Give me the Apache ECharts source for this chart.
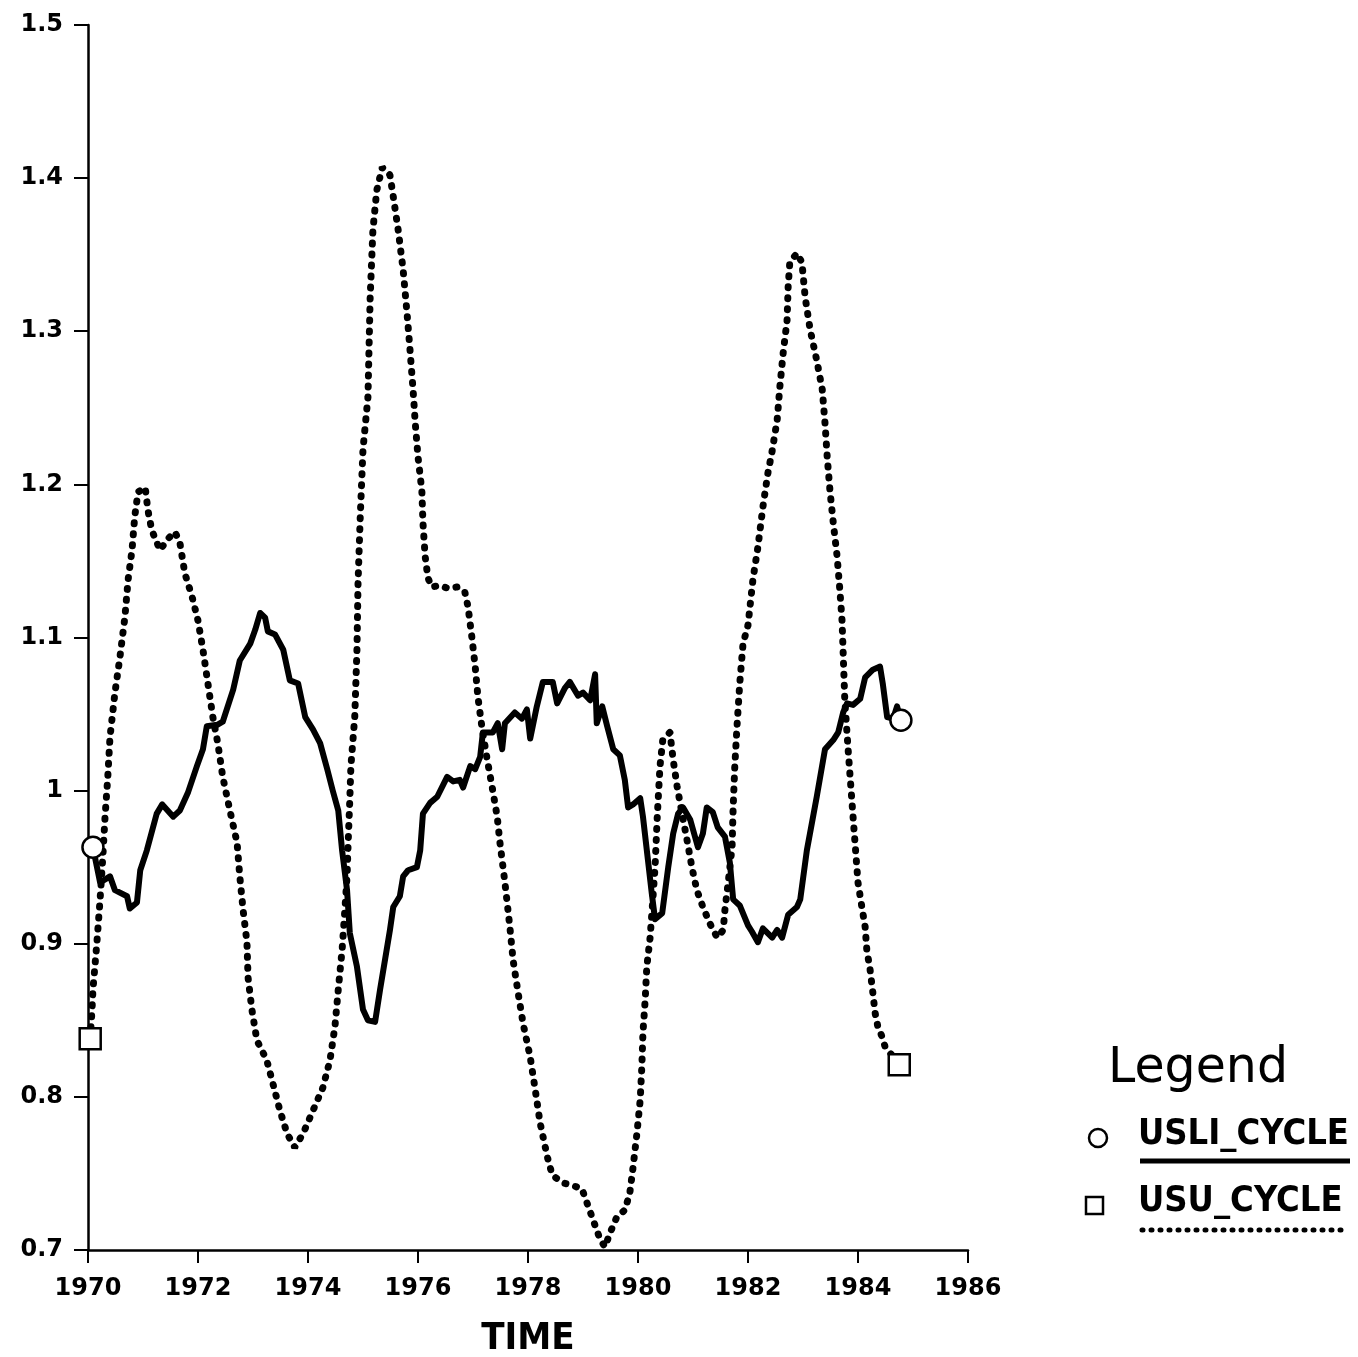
<!DOCTYPE html>
<html>
<head>
<meta charset="utf-8">
<title>USLI / USU cycle</title>
<script src="https://cdn.jsdelivr.net/npm/echarts@6/dist/echarts.min.js"></script>
<style>
  html, body { margin: 0; padding: 0; background: #fff; }
  #main { width: 1358px; height: 1357px; }
</style>
</head>
<body>
<div id="main"></div>
<script>
// USLI_CYCLE (solid line)
var usliYears = [
    1970.09, 1970.22, 1970.40, 1970.49, 1970.71, 1970.76, 1970.89, 1970.95, 1971.07, 1971.25,
    1971.35, 1971.55, 1971.67, 1971.82, 1971.98, 1972.09, 1972.16, 1972.35, 1972.45, 1972.64,
    1972.76, 1972.95, 1973.04, 1973.13, 1973.22, 1973.27, 1973.40, 1973.55, 1973.67, 1973.82,
    1973.95, 1974.09, 1974.22, 1974.35, 1974.45, 1974.55, 1974.62, 1974.71, 1974.76, 1974.89,
    1975.00, 1975.09, 1975.22, 1975.31, 1975.49, 1975.55, 1975.67, 1975.73, 1975.82, 1975.98,
    1976.04, 1976.09, 1976.22, 1976.35, 1976.53, 1976.64, 1976.76, 1976.82, 1976.95, 1977.04,
    1977.13, 1977.18, 1977.36, 1977.45, 1977.53, 1977.58, 1977.76, 1977.89, 1977.98, 1978.04,
    1978.16, 1978.27, 1978.45, 1978.53, 1978.67, 1978.76, 1978.91, 1979.00, 1979.13, 1979.22,
    1979.25, 1979.35, 1979.44, 1979.55, 1979.67, 1979.76, 1979.82, 1979.91, 1980.04, 1980.09,
    1980.18, 1980.25, 1980.31, 1980.44, 1980.55, 1980.64, 1980.73, 1980.82, 1980.95, 1981.09,
    1981.18, 1981.25, 1981.36, 1981.45, 1981.58, 1981.67, 1981.73, 1981.85, 1982.00, 1982.07,
    1982.18, 1982.27, 1982.44, 1982.53, 1982.62, 1982.73, 1982.89, 1982.95, 1983.07, 1983.25,
    1983.40, 1983.55, 1983.64, 1983.73, 1983.80, 1983.91, 1984.04, 1984.13, 1984.27, 1984.40,
    1984.45, 1984.53, 1984.64, 1984.71, 1984.78
];
var usliValues = [
    0.963, 0.940, 0.944, 0.935, 0.931, 0.923, 0.927, 0.948, 0.961, 0.985,
    0.991, 0.983, 0.987, 0.999, 1.016, 1.027, 1.042, 1.043, 1.045, 1.066,
    1.085, 1.096, 1.105, 1.116, 1.113, 1.104, 1.102, 1.092, 1.072, 1.070,
    1.048, 1.040, 1.031, 1.014, 1.000, 0.987, 0.961, 0.935, 0.907, 0.885,
    0.857, 0.850, 0.849, 0.870, 0.909, 0.924, 0.931, 0.944, 0.948, 0.950,
    0.961, 0.985, 0.992, 0.996, 1.009, 1.006, 1.007, 1.002, 1.016, 1.014,
    1.022, 1.038, 1.038, 1.044, 1.027, 1.044, 1.051, 1.047, 1.053, 1.034,
    1.055, 1.071, 1.071, 1.057, 1.067, 1.071, 1.062, 1.064, 1.059, 1.076,
    1.044, 1.055, 1.042, 1.027, 1.023, 1.007, 0.989, 0.991, 0.995, 0.983,
    0.955, 0.933, 0.916, 0.920, 0.950, 0.972, 0.985, 0.989, 0.981, 0.963,
    0.972, 0.989, 0.986, 0.976, 0.970, 0.953, 0.929, 0.925, 0.912, 0.908,
    0.901, 0.910, 0.904, 0.909, 0.904, 0.919, 0.924, 0.929, 0.961, 0.996,
    1.027, 1.033, 1.038, 1.051, 1.057, 1.056, 1.060, 1.074, 1.079, 1.081,
    1.070, 1.048, 1.047, 1.055, 1.046
];

// USU_CYCLE (dotted line)
var usuYears = [
    1970.04, 1970.07, 1970.09, 1970.16, 1970.22, 1970.27, 1970.31, 1970.36, 1970.40, 1970.49,
    1970.58, 1970.67, 1970.73, 1970.80, 1970.85, 1970.91, 1971.04, 1971.09, 1971.16, 1971.31,
    1971.44, 1971.58, 1971.67, 1971.76, 1971.89, 1972.00, 1972.09, 1972.18, 1972.27, 1972.36,
    1972.45, 1972.58, 1972.71, 1972.76, 1972.82, 1972.89, 1972.91, 1972.98, 1973.07, 1973.25,
    1973.36, 1973.49, 1973.62, 1973.76, 1973.91, 1974.09, 1974.27, 1974.40, 1974.49, 1974.55,
    1974.62, 1974.67, 1974.71, 1974.73, 1974.76, 1974.78, 1974.85, 1974.89, 1974.91, 1974.95,
    1975.00, 1975.09, 1975.13, 1975.18, 1975.25, 1975.35, 1975.49, 1975.55, 1975.64, 1975.73,
    1975.80, 1975.85, 1975.91, 1975.95, 1976.00, 1976.07, 1976.09, 1976.13, 1976.18, 1976.25,
    1976.40, 1976.55, 1976.71, 1976.85, 1976.91, 1976.98, 1977.04, 1977.09, 1977.16, 1977.25,
    1977.35, 1977.44, 1977.49, 1977.58, 1977.67, 1977.73, 1977.82, 1977.91, 1978.04, 1978.13,
    1978.22, 1978.35, 1978.44, 1978.62, 1978.82, 1978.98, 1979.07, 1979.18, 1979.31, 1979.40,
    1979.49, 1979.62, 1979.76, 1979.85, 1979.91, 1979.98, 1980.04, 1980.07, 1980.09, 1980.13,
    1980.16, 1980.22, 1980.27, 1980.31, 1980.35, 1980.40, 1980.45, 1980.58, 1980.64, 1980.71,
    1980.80, 1980.89, 1980.98, 1981.07, 1981.18, 1981.31, 1981.44, 1981.55, 1981.58, 1981.64,
    1981.71, 1981.73, 1981.76, 1981.80, 1981.85, 1981.91, 1982.00, 1982.09, 1982.18, 1982.27,
    1982.36, 1982.44, 1982.53, 1982.58, 1982.64, 1982.71, 1982.73, 1982.76, 1982.89, 1982.98,
    1983.04, 1983.13, 1983.25, 1983.35, 1983.40, 1983.44, 1983.49, 1983.55, 1983.62, 1983.67,
    1983.71, 1983.76, 1983.82, 1983.91, 1984.00, 1984.07, 1984.13, 1984.16, 1984.22, 1984.27,
    1984.31, 1984.36, 1984.44, 1984.49, 1984.75
];
var usuValues = [
    0.838, 0.855, 0.870, 0.900, 0.929, 0.957, 0.983, 1.009, 1.035, 1.064,
    1.087, 1.113, 1.138, 1.157, 1.179, 1.195, 1.198, 1.183, 1.170, 1.157,
    1.164, 1.169, 1.162, 1.142, 1.127, 1.111, 1.092, 1.070, 1.048, 1.031,
    1.009, 0.987, 0.966, 0.944, 0.922, 0.901, 0.878, 0.857, 0.837, 0.824,
    0.809, 0.791, 0.776, 0.767, 0.776, 0.791, 0.806, 0.824, 0.846, 0.870,
    0.896, 0.922, 0.944, 0.966, 0.994, 1.016, 1.048, 1.092, 1.136, 1.179,
    1.223, 1.257, 1.322, 1.366, 1.392, 1.407, 1.402, 1.388, 1.366, 1.340,
    1.312, 1.290, 1.262, 1.240, 1.218, 1.196, 1.175, 1.153, 1.139, 1.133,
    1.134, 1.132, 1.133, 1.130, 1.120, 1.100, 1.081, 1.061, 1.042, 1.022,
    1.002, 0.983, 0.966, 0.940, 0.911, 0.889, 0.868, 0.848, 0.826, 0.805,
    0.783, 0.761, 0.749, 0.744, 0.742, 0.740, 0.731, 0.720, 0.707, 0.702,
    0.711, 0.722, 0.726, 0.737, 0.754, 0.776, 0.798, 0.820, 0.842, 0.863,
    0.885, 0.904, 0.929, 0.950, 0.983, 1.016, 1.033, 1.038, 1.020, 1.003,
    0.985, 0.968, 0.950, 0.935, 0.924, 0.913, 0.904, 0.909, 0.922, 0.940,
    0.963, 0.989, 1.016, 1.042, 1.070, 1.096, 1.108, 1.138, 1.159, 1.185,
    1.207, 1.222, 1.242, 1.264, 1.286, 1.307, 1.329, 1.345, 1.351, 1.345,
    1.322, 1.301, 1.281, 1.262, 1.240, 1.218, 1.196, 1.175, 1.153, 1.131,
    1.111, 1.059, 1.027, 0.983, 0.940, 0.924, 0.911, 0.896, 0.883, 0.868,
    0.855, 0.846, 0.839, 0.833, 0.821
];

var seriesNames = ['USLI_CYCLE', 'USU_CYCLE'];

function pairs(xs, ys) {
    var out = [];
    for (var i = 0; i < xs.length; i++) {
        out.push([xs[i], ys[i]]);
    }
    return out;
}
// first and last point, where the markers sit
function ends(xs, ys) {
    var n = xs.length - 1;
    return [[xs[0], ys[0]], [xs[n], ys[n]]];
}

var font = '"DejaVu Sans", sans-serif';
var condensed = '"DejaVu Sans Condensed", "DejaVu Sans", sans-serif';
var myChart = echarts.init(document.getElementById('main'));

var option = {
    backgroundColor: '#fff',
    animation: false,
    grid: { left: 88, right: 390, top: 25, bottom: 107, outerBoundsMode: 'none', containLabel: false },
    xAxis: {
        type: 'value',
        min: 1970,
        max: 1986,
        interval: 2,
        name: 'TIME',
        nameLocation: 'middle',
        nameGap: 70,
        nameTextStyle: { color: '#000', fontFamily: condensed, fontWeight: 'bold', fontSize: 38 },
        axisLine: { lineStyle: { color: '#000', width: 2.5 } },
        axisTick: { show: true, length: 13, lineStyle: { color: '#000', width: 2 } },
        axisLabel: {
            color: '#000', fontFamily: font, fontWeight: 'bold', fontSize: 24, margin: 27,
            formatter: function (v) { return String(v); }
        },
        splitLine: { show: false }
    },
    yAxis: {
        type: 'value',
        min: 0.7,
        max: 1.5,
        interval: 0.1,
        axisLine: { show: true, lineStyle: { color: '#000', width: 2.5 } },
        axisTick: { show: true, length: 14, lineStyle: { color: '#000', width: 2 } },
        axisLabel: { color: '#000', fontFamily: font, fontWeight: 'bold', fontSize: 24, margin: 25 },
        splitLine: { show: false }
    },
    series: [
        {
            name: seriesNames[0],
            type: 'line',
            data: pairs(usliYears, usliValues),
            symbol: 'none',
            lineStyle: { color: '#000', width: 6, join: 'round' },
            z: 2
        },
        {
            name: seriesNames[1],
            type: 'line',
            data: pairs(usuYears, usuValues),
            symbol: 'none',
            lineStyle: { color: '#000', width: 7, type: [1, 10], cap: 'round' },
            z: 3
        },
        {
            type: 'scatter',
            data: ends(usliYears, usliValues),
            symbol: 'circle',
            symbolSize: 21,
            itemStyle: { color: '#fff', borderColor: '#000', borderWidth: 2.5, opacity: 1 },
            z: 5
        },
        {
            type: 'scatter',
            data: ends(usuYears, usuValues),
            symbol: 'rect',
            symbolSize: 21,
            itemStyle: { color: '#fff', borderColor: '#000', borderWidth: 2.5, opacity: 1 },
            z: 5
        }
    ],
    graphic: [
        {
            type: 'text', left: 1108, top: 1045,
            style: { text: 'Legend', fill: '#000', font: '49px "DejaVu Sans", sans-serif' }
        },
        {
            type: 'circle', shape: { cx: 1098, cy: 1138, r: 9 },
            style: { fill: '#fff', stroke: '#000', lineWidth: 2.5 }
        },
        {
            type: 'text', left: 1138, top: 1117,
            style: { text: seriesNames[0], fill: '#000', font: 'bold 36px "DejaVu Sans Condensed", "DejaVu Sans", sans-serif' }
        },
        {
            type: 'line', shape: { x1: 1140, y1: 1161, x2: 1350, y2: 1161 },
            style: { stroke: '#000', lineWidth: 5 }
        },
        {
            type: 'rect', shape: { x: 1086, y: 1197, width: 17, height: 17 },
            style: { fill: '#fff', stroke: '#000', lineWidth: 2.5 }
        },
        {
            type: 'text', left: 1138, top: 1184,
            style: { text: seriesNames[1], fill: '#000', font: 'bold 36px "DejaVu Sans Condensed", "DejaVu Sans", sans-serif' }
        },
        {
            type: 'line', shape: { x1: 1142, y1: 1230, x2: 1344, y2: 1230 },
            style: { stroke: '#000', lineWidth: 5, lineDash: [1, 8], lineCap: 'round' }
        }
    ]
};

myChart.setOption(option);
</script>
</body>
</html>
